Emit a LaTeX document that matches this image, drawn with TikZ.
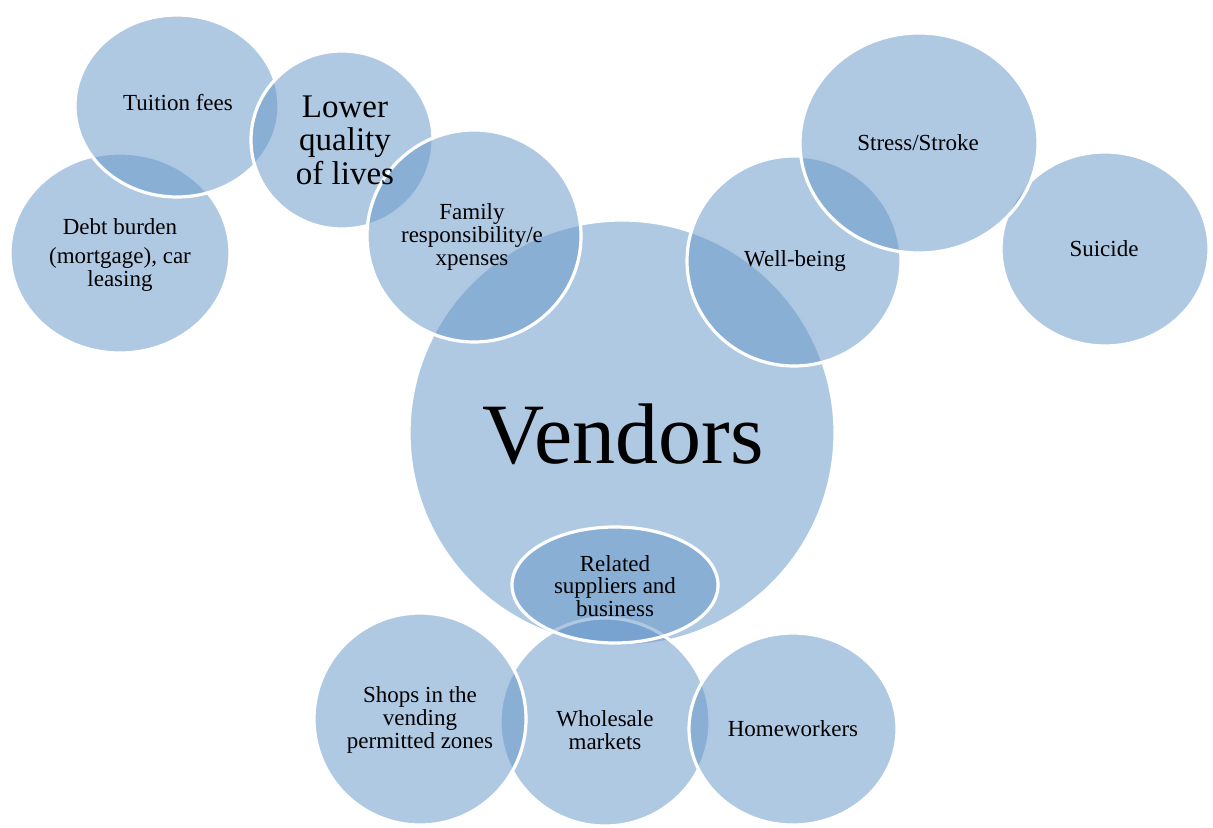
\documentclass[tikz,border=0pt]{standalone}
\usepackage{fontspec}
\setmainfont{Liberation Serif}
\usetikzlibrary{shapes.geometric}
\definecolor{bubblue}{RGB}{103,151,201}
\begin{document}
\begin{tikzpicture}[x=0.5pt,y=-0.5pt,
  bub/.style={ellipse, fill=bubblue, fill opacity=0.52, draw=white, draw opacity=1, line width=1.6pt, inner sep=0pt, outer sep=0pt},
  txt/.style={align=center, text=black, inner sep=0pt, font=\fontsize{11.5}{11.4}\selectfont},
  bigtxt/.style={align=center, text=black, inner sep=0pt, font=\fontsize{16.5}{16.8}\selectfont},
  hugetxt/.style={align=center, text=black, inner sep=0pt, font=\fontsize{43}{43}\selectfont}]
\useasboundingbox (0,0) rectangle (1213,828);
% shapes (drawing order gives the overlaps)
\node[bub, minimum width=213pt, minimum height=213pt] (vendors) at (622,433) {};
\node[bub, minimum width=110pt, minimum height=100pt] (debt) at (120,253) {};
\node[bub, minimum width=102pt, minimum height=91pt] (tuition) at (177,106) {};
\node[bub, minimum width=91pt, minimum height=89pt] (lower) at (342,140) {};
\node[bub, minimum width=107pt, minimum height=106pt] (family) at (474,236) {};
\node[bub, minimum width=104pt, minimum height=97pt] (suicide) at (1105,249) {};
\node[bub, minimum width=107pt, minimum height=105pt] (well) at (794,261) {};
\node[bub, minimum width=119pt, minimum height=110pt] (stress) at (919,143) {};
\node[bub, minimum width=105pt, minimum height=104pt] (wholesale) at (605,722) {};
\node[bub, minimum width=106pt, minimum height=106pt] (shops) at (420,719) {};
\node[bub, minimum width=104pt, minimum height=96pt] (home) at (793,729) {};
\node[bub, minimum width=103pt, minimum height=58pt] (related) at (615,585) {};
% texts
\node[hugetxt] (tvendors) at (623,434) {Vendors};
\node[txt] (tdebt) at (120,255) {Debt burden\\[3pt](mortgage), car\\leasing};
\node[txt] (ttuition) at (178,103) {Tuition fees};
\node[bigtxt] (tlower) at (345,140) {Lower\\quality\\of lives};
\node[txt] (tfamily) at (472,237) {Family\\responsibility/e\\xpenses};
\node[txt] (tsuicide) at (1104,249) {Suicide};
\node[txt] (twell) at (795,261) {Well-being};
\node[txt] (tstress) at (918,143) {Stress/Stroke};
\node[txt] (twholesale) at (605,730) {Wholesale\\markets};
\node[txt] (tshops) at (420,720) {Shops in the\\vending\\permitted zones};
\node[txt] (thome) at (793,729) {Homeworkers};
\node[txt] (trelated) at (615,586) {Related\\suppliers and\\business};
\end{tikzpicture}
\end{document}
